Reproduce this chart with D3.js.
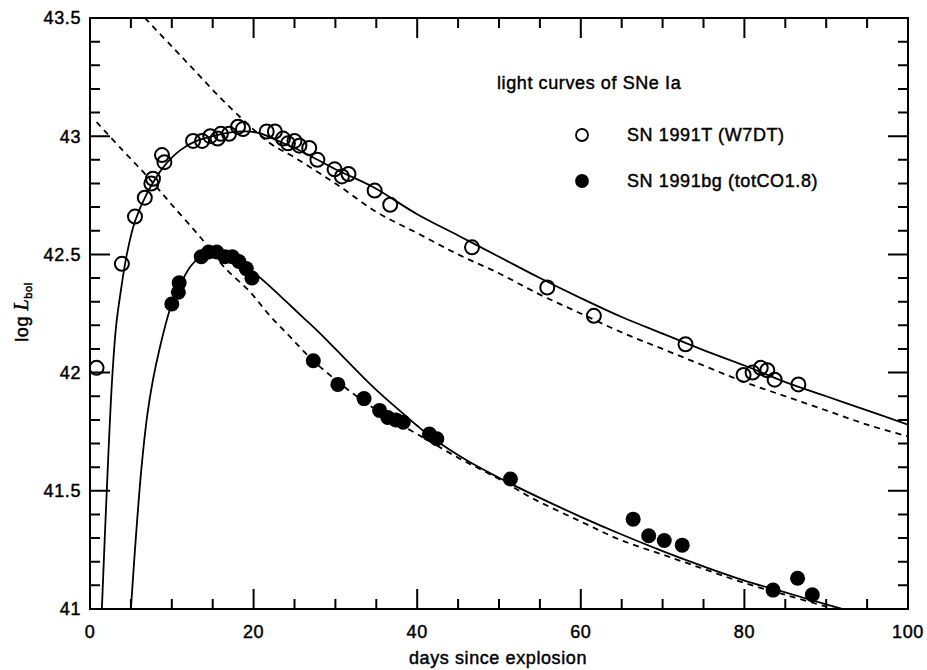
<!DOCTYPE html>
<html>
<head>
<meta charset="utf-8">
<script src="https://cdn.jsdelivr.net/npm/d3@7"></script>
<style>
  body { margin: 0; background: #fff; }
  svg text { font-family: "Liberation Sans", Arial, sans-serif; fill: #000; }
</style>
</head>
<body>
<div id="chart"></div>
<script>
// observed points, SN 1991T (open circles)
const t91Days = [0.8, 3.9, 5.5, 6.7, 7.5, 7.7, 8.8, 9.1, 12.6, 13.7, 14.7, 15.6, 16.0, 17.0, 18.1, 18.7,
  21.6, 22.6, 23.6, 24.2, 25.0, 25.6, 26.8, 27.8, 29.9, 30.8, 31.6, 34.8, 36.7, 46.7, 55.9, 61.6, 72.8,
  79.9, 81.0, 82.0, 82.8, 83.7, 86.6];
const t91Lum = [42.02, 42.46, 42.66, 42.74, 42.80, 42.82, 42.92, 42.89, 42.98, 42.98, 43.00, 42.99, 43.01, 43.01, 43.04, 43.03,
  43.02, 43.02, 42.99, 42.97, 42.98, 42.96, 42.95, 42.90, 42.86, 42.83, 42.84, 42.77, 42.71, 42.53, 42.36, 42.24, 42.12,
  41.99, 42.00, 42.02, 42.01, 41.97, 41.95];

// observed points, SN 1991bg (filled circles)
const bg91Days = [10.0, 10.9, 10.8, 13.6, 14.5, 15.5, 16.5, 17.4, 18.2, 19.1, 19.8, 27.3, 30.3, 33.5, 35.4,
  36.4, 37.4, 38.3, 41.5, 42.4, 51.4, 66.4, 68.3, 70.2, 72.4, 83.5, 86.5, 88.3];
const bg91Lum = [42.29, 42.38, 42.34, 42.49, 42.51, 42.51, 42.49, 42.49, 42.47, 42.44, 42.40, 42.05, 41.95, 41.89, 41.84,
  41.81, 41.80, 41.79, 41.74, 41.72, 41.55, 41.38, 41.31, 41.29, 41.27, 41.08, 41.13, 41.06];

// model curves
const t91ModelDays = [1.45, 2.05, 2.7, 3.2, 3.7, 4.5, 5.5, 7, 9, 11, 13, 15, 17, 19, 21, 23, 25, 27.3, 30, 34.6,
  40, 45, 50, 55, 60, 65, 70, 75, 80, 85, 90, 95, 100];
const t91ModelLum = [41.0, 41.5, 41.97, 42.2, 42.33, 42.5, 42.64, 42.76, 42.87, 42.94, 42.98, 43.0, 43.015, 43.02, 43.01, 42.98, 42.95, 42.91, 42.86, 42.785,
  42.67, 42.58, 42.49, 42.40, 42.315, 42.235, 42.165, 42.095, 42.03, 41.96, 41.90, 41.84, 41.78];

const t91DashDays = [6.7, 10, 13, 16, 19, 22, 25, 30, 35, 40, 45, 50, 55, 60, 65, 70, 75, 80, 85, 90, 95, 100];
const t91DashLum = [43.5, 43.38, 43.27, 43.16, 43.06, 42.97, 42.91, 42.80, 42.68, 42.59, 42.50, 42.42, 42.33, 42.25, 42.17, 42.10, 42.03, 41.96, 41.90, 41.84, 41.78, 41.73];

const bg91ModelDays = [5.0, 5.6, 6.3, 7.0, 7.7, 8.5, 9.8, 11, 12.3, 13.5, 15, 16.5, 18, 20, 22, 24, 26, 28, 30, 32, 34, 36, 38, 40,
  42, 46, 50, 55, 60, 65, 70, 75, 80, 85, 90, 93];
const bg91ModelLum = [41.0, 41.3, 41.6, 41.82, 41.97, 42.1, 42.27, 42.37, 42.45, 42.49, 42.515, 42.51, 42.48, 42.425, 42.365, 42.30, 42.235, 42.17, 42.10, 42.03, 41.96, 41.895, 41.835, 41.775,
  41.72, 41.63, 41.555, 41.47, 41.39, 41.315, 41.245, 41.18, 41.12, 41.07, 41.02, 40.99];

const bg91DashDays = [0.8, 4, 7, 10, 13.8, 16.3, 19.6, 22, 24.5, 27, 30, 33, 36, 40, 45, 50, 54, 60, 65, 70, 75, 80, 85, 90, 92];
const bg91DashLum = [43.06, 42.94, 42.83, 42.71, 42.56, 42.45, 42.34, 42.24, 42.15, 42.06, 41.97, 41.89, 41.82, 41.74, 41.64, 41.55, 41.47, 41.37, 41.29, 41.23, 41.17, 41.11, 41.06, 41.01, 40.99];

const xTicksMajor = [0, 20, 40, 60, 80, 100];
const yTicksMajor = [41, 41.5, 42, 42.5, 43, 43.5];

const legendTitle = 'light curves of SNe Ia';
const legendNames = ['SN 1991T (W7DT)', 'SN 1991bg (totCO1.8)'];

// DIMENSIONS
const width = 927, height = 670;
const pLeft = 90, pRight = 908, pTop = 18, pBottom = 609;

const svg = d3.select('#chart').append('svg')
  .attr('width', width)
  .attr('height', height);

const x = d3.scaleLinear().domain([0, 100]).range([pLeft, pRight]);
const y = d3.scaleLinear().domain([41, 43.5]).range([pBottom, pTop]);

const zip = (a, b) => a.map((v, i) => [v, b[i]]);

svg.append('clipPath').attr('id', 'plot')
  .append('rect')
  .attr('x', pLeft).attr('y', pTop)
  .attr('width', pRight - pLeft).attr('height', pBottom - pTop);

// TICKS - inward on all four sides, one path
const minorX = d3.range(0, 101, 5).filter(d => d % 20 !== 0);
const minorY = d3.range(41, 43.5, 0.1).filter(d => Math.abs(d * 2 - Math.round(d * 2)) > 0.01);

const xTickData = xTicksMajor.map(v => [v, 20]).concat(minorX.map(v => [v, 10]));
const yTickData = yTicksMajor.map(v => [v, 20]).concat(minorY.map(v => [v, 10]));

let tickPath = '';
xTickData.forEach(d => {
  const px = x(d[0]);
  tickPath += `M${px},${pBottom}V${pBottom - d[1]}M${px},${pTop}V${pTop + d[1]}`;
});
yTickData.forEach(d => {
  const py = y(d[0]);
  tickPath += `M${pLeft},${py}H${pLeft + d[1]}M${pRight},${py}H${pRight - d[1]}`;
});
svg.append('path')
  .attr('d', tickPath)
  .attr('fill', 'none')
  .attr('stroke', '#000')
  .attr('stroke-width', 2);

const labelStyle = sel => sel.attr('font-size', 18)
  .attr('letter-spacing', 0.6)
  .attr('stroke', '#000').attr('stroke-width', 0.45);

svg.append('g').selectAll('text')
  .data(xTicksMajor)
  .enter().append('text')
  .attr('x', d => x(d)).attr('y', 638)
  .attr('text-anchor', 'middle')
  .text(d3.format('~g'))
  .call(labelStyle);

svg.append('g').selectAll('text')
  .data(yTicksMajor)
  .enter().append('text')
  .attr('x', 81).attr('y', d => y(d))
  .attr('dy', '0.35em')
  .attr('text-anchor', 'end')
  .text(d3.format('~g'))
  .call(labelStyle);

svg.append('rect')
  .attr('x', pLeft).attr('y', pTop)
  .attr('width', pRight - pLeft).attr('height', pBottom - pTop)
  .attr('fill', 'none').attr('stroke', '#000').attr('stroke-width', 2);

// CURVES
const line = d3.line().x(d => x(d[0])).y(d => y(d[1])).curve(d3.curveCatmullRom);
const curves = svg.append('g').attr('clip-path', 'url(#plot)');

[[t91ModelDays, t91ModelLum, null], [t91DashDays, t91DashLum, '6,5'],
 [bg91ModelDays, bg91ModelLum, null], [bg91DashDays, bg91DashLum, '6,5']].forEach(c => {
  curves.append('path')
    .datum(zip(c[0], c[1]))
    .attr('d', line)
    .attr('fill', 'none')
    .attr('stroke', '#000')
    .attr('stroke-width', 1.8)
    .attr('stroke-dasharray', c[2]);
});

// POINTS
const pts = svg.append('g').attr('clip-path', 'url(#plot)');
pts.selectAll('circle.t91')
  .data(zip(t91Days, t91Lum))
  .enter().append('circle')
  .attr('class', 't91')
  .attr('cx', d => x(d[0])).attr('cy', d => y(d[1]))
  .attr('r', 7)
  .attr('fill', 'none').attr('stroke', '#000').attr('stroke-width', 2);

pts.selectAll('circle.bg91')
  .data(zip(bg91Days, bg91Lum))
  .enter().append('circle')
  .attr('class', 'bg91')
  .attr('cx', d => x(d[0])).attr('cy', d => y(d[1]))
  .attr('r', 7.5)
  .attr('fill', '#000');

// LEGEND
svg.append('text')
  .attr('x', 497).attr('y', 89)
  .call(labelStyle)
  .text(legendTitle);

legendNames.forEach((name, i) => {
  const ly = 135 + i * 46;
  svg.append('circle')
    .attr('cx', 582).attr('cy', ly).attr('r', 6)
    .attr('fill', i === 0 ? 'none' : '#000')
    .attr('stroke', '#000').attr('stroke-width', 1.8);
  svg.append('text')
    .attr('x', 627).attr('y', ly + 6)
    .call(labelStyle)
    .text(name);
});

// AXIS TITLES
svg.append('text')
  .attr('x', 498).attr('y', 664)
  .attr('text-anchor', 'middle')
  .call(labelStyle)
  .text('days since explosion');

const ylab = svg.append('text')
  .attr('transform', 'translate(28,312) rotate(-90)')
  .attr('text-anchor', 'middle')
  .call(labelStyle);
ylab.append('tspan').text('log ');
ylab.append('tspan').text('L')
  .style('font-family', '"Liberation Serif", "Times New Roman", serif')
  .attr('font-style', 'italic').attr('font-size', 20);
ylab.append('tspan').text('bol').attr('font-size', 11).attr('dy', 4);
</script>
</body>
</html>
